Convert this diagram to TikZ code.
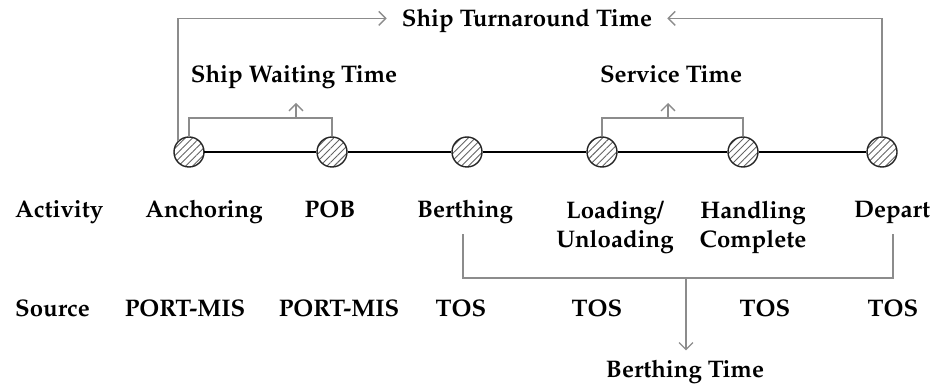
\documentclass[tikz,border=0pt]{standalone}
\usepackage[T1]{fontenc}
\renewcommand{\rmdefault}{ppl}
\usetikzlibrary{arrows.meta,patterns.meta}
\definecolor{linkgray}{RGB}{140,140,140}
\definecolor{hatchgray}{RGB}{100,100,100}
\tikzset{
  event/.style={circle, draw=black!85, line width=1.4pt, minimum size=30pt, inner sep=0pt,
    pattern={Lines[angle=45,distance=5pt,line width=0.9pt]}, pattern color=hatchgray},
  lbl/.style={font={\fontsize{24}{29}\selectfont\bfseries}, anchor=base, inner sep=2pt, align=center},
  glink/.style={draw=linkgray, line width=1.5pt},
  garrow/.style={glink, -{Straight Barb[length=7pt,width=14pt,line width=1.3pt]}},
  timeline/.style={draw=black, line width=2pt}
}
\begin{document}
\begin{tikzpicture}[x=1pt, y=-1pt]
  \useasboundingbox (0,0) rectangle (935,387);

  % events on the time line
  \node[event] (c1) at (189,152) {};
  \node[event] (c2) at (332,152) {};
  \node[event] (c3) at (467,152) {};
  \node[event] (c4) at (602,152) {};
  \node[event] (c5) at (743,152) {};
  \node[event] (c6) at (882,152) {};
  \draw[timeline] (c1) -- (c2) -- (c3) -- (c4) -- (c5) -- (c6);

  % interval labels above the line
  \node[lbl, inner xsep=15pt] (turn) at (527,27) {Ship Turnaround Time};
  \node[lbl] (wait) at (294,83) {Ship Waiting Time};
  \node[lbl] (serv) at (671,83) {Service Time};

  \draw[garrow] (c1.135) |- ([yshift=3pt]turn.west);
  \draw[garrow] (c6.north) |- ([yshift=3pt]turn.east);

  \coordinate (wj) at (296,118);
  \coordinate (wtip) at (296,103);
  \draw[glink] (c1.north) |- (wj) -| (c2.north);
  \draw[garrow] (wj) -- (wtip);

  \coordinate (sj) at (668,118);
  \coordinate (stip) at (668,103);
  \draw[glink] (c4.north) |- (sj) -| (c5.north);
  \draw[garrow] (sj) -- (stip);

  % activity row
  \node[lbl, anchor=base west] (hact) at (13,218) {Activity};
  \node[lbl] (a1) at (204,218) {Anchoring};
  \node[lbl] (a2) at (330,218) {POB};
  \node[lbl] (a3) at (465,218) {Berthing};
  \node[lbl] (a4) at (615,248) {Loading/\\Unloading};
  \node[lbl] (a5) at (753,248) {Handling\\Complete};
  \node[lbl] (a6) at (892,218) {Depart};

  % source row
  \node[lbl, anchor=base west] (hsrc) at (13,317) {Source};
  \node[lbl] (s1) at (185,317) {PORT-MIS};
  \node[lbl] (s2) at (339,317) {PORT-MIS};
  \node[lbl] (s3) at (461,317) {TOS};
  \node[lbl] (s4) at (597,317) {TOS};
  \node[lbl] (s5) at (765,317) {TOS};
  \node[lbl] (s6) at (893,317) {TOS};

  % berthing interval below the labels
  \node[lbl] (berth) at (685,378) {Berthing Time};
  \coordinate (bj) at (686,278);
  \draw[glink] ([xshift=-2pt,yshift=-8pt]a3.south) |- (bj) -| ([xshift=1pt,yshift=-8pt]a6.south);
  \draw[garrow] (bj) -- ([yshift=8pt]berth.north -| bj);
\end{tikzpicture}
\end{document}
